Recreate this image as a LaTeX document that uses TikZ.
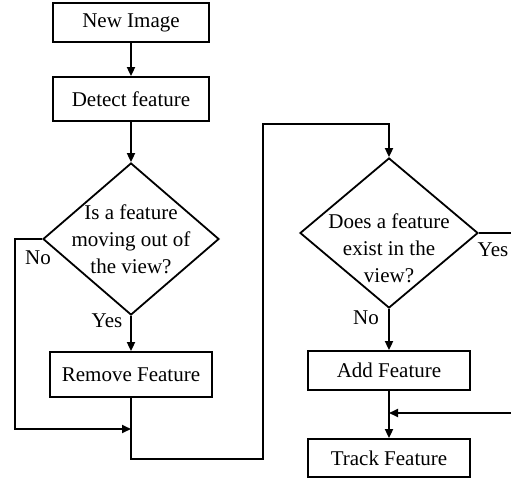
\documentclass[tikz,border=0pt]{standalone}
\usepackage{fontspec}
\setmainfont{Liberation Serif}
\usetikzlibrary{shapes.geometric,arrows.meta}
\begin{document}
\begin{tikzpicture}[x=1pt,y=-1pt,line width=1.8pt,
  font=\fontsize{21}{27}\selectfont,
  boxnode/.style={draw,rectangle,inner sep=0pt,line width=1.8pt},
  decnode/.style={draw,diamond,inner sep=0pt,line width=1.8pt},
  txt/.style={align=center,inner sep=0pt},
  arr/.style={line width=1.8pt,-{Triangle[length=9pt,width=8pt]}}]
\useasboundingbox (0,0) rectangle (511,479);
\node[boxnode,minimum width=156pt,minimum height=39pt] (new) at (131,22.5) {New Image};
\node[boxnode,minimum width=156pt,minimum height=44pt] (det) at (131,99) {Detect feature};
\node[decnode,minimum width=176pt,minimum height=152pt] (d1) at (131,239) {};
\node[txt] (t1) at (131,239.5) {Is a feature\\moving out of\\the view?};
\node[boxnode,minimum width=162pt,minimum height=45pt] (rem) at (131,374.5) {Remove Feature};
\node[decnode,minimum width=178pt,minimum height=150pt] (d2) at (389,233) {};
\node[txt] (t2) at (389,248) {Does a feature\\exist in the\\view?};
\node[boxnode,minimum width=162pt,minimum height=39pt] (add) at (389,370.5) {Add Feature};
\node[boxnode,minimum width=162pt,minimum height=38pt] (trk) at (389,458) {Track Feature};
\node[txt] (no1) at (38,258) {No};
\node[txt] (yes1) at (107,321) {Yes};
\node[txt] (no2) at (366,318) {No};
\node[txt] (yes2) at (493,250) {Yes};
\coordinate (m1) at (131,429);
\coordinate (m2) at (389,413);
\draw[arr] (new) -- (det);
\draw[arr] (det) -- (d1.north);
\draw[arr] (d1.south) -- (rem);
\draw[arr] (d1.west) -- (15,239) -- (15,429) -- (m1);
\draw[arr] (rem.south) -- (131,459) -- (263,459) -- (263,124) -- (389,124) -- (d2.north);
\draw[arr] (d2.south) -- (add);
\draw[arr] (d2.east) -- (520,233) -- (520,413) -- (m2);
\draw[arr] (add) -- (trk);
\end{tikzpicture}
\end{document}
